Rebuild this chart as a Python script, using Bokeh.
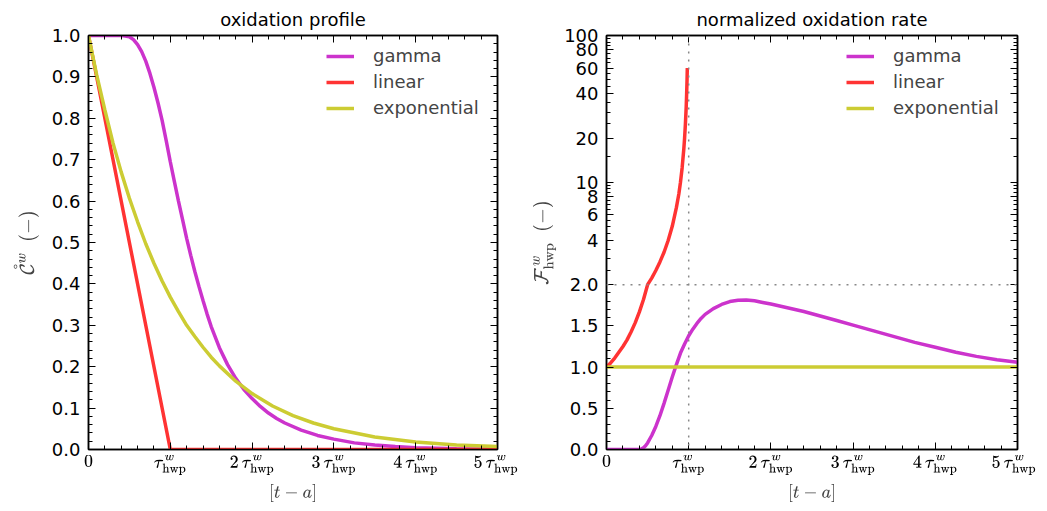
import numpy as np
from bokeh.plotting import figure
from bokeh.models import (FixedTicker, LinearAxis, Range1d, TeX, Legend, LegendItem,
                          Span, PrintfTickFormatter)
from bokeh.layouts import row
from bokeh.embed import file_html
from bokeh.resources import INLINE

# ---------------- data (x in units of tau_hwp) ----------------
# left panel: oxidation profile
t_gamma = [0, 0.2, 0.4, 0.45, 0.5, 0.55, 0.6, 0.65, 0.7, 0.75, 0.8, 0.85, 0.9, 0.95, 1.0,
           1.05, 1.1, 1.15, 1.2, 1.25, 1.3, 1.35, 1.4, 1.45, 1.5, 1.6, 1.7, 1.8, 1.9, 2.0,
           2.1, 2.2, 2.3, 2.4, 2.6, 2.8, 3.0, 3.25, 3.5, 3.75, 4.0, 4.5, 5.0]
c_gamma = [1.0, 1.0, 1.0, 0.999, 0.997, 0.99, 0.978, 0.961, 0.938, 0.909, 0.875, 0.837,
           0.795, 0.746, 0.695, 0.647, 0.60, 0.555, 0.51, 0.469, 0.43, 0.394, 0.36, 0.327,
           0.297, 0.246, 0.205, 0.172, 0.145, 0.123, 0.104, 0.088, 0.075, 0.064, 0.047,
           0.034, 0.025, 0.016, 0.011, 0.007, 0.0045, 0.002, 0.001]
t_lin = [0, 1, 5]
c_lin = [1.0, 0.0, 0.0]
t_exp = [0, 0.1, 0.2, 0.3, 0.4, 0.5, 0.6, 0.7, 0.8, 0.9, 1.0, 1.1, 1.2, 1.3, 1.4, 1.5, 1.6,
         1.8, 2.0, 2.25, 2.5, 2.75, 3.0, 3.5, 4.0, 4.5, 5.0]
c_exp = [1.0, 0.905, 0.82, 0.74, 0.67, 0.607, 0.55, 0.497, 0.45, 0.407, 0.368, 0.333, 0.30,
         0.273, 0.247, 0.223, 0.202, 0.165, 0.135, 0.105, 0.082, 0.064, 0.05, 0.03, 0.018,
         0.011, 0.007]

# right panel: normalized oxidation rate
t_gamma_rate = [0, 0.2, 0.4, 0.42, 0.45, 0.475, 0.5, 0.55, 0.6, 0.65, 0.7, 0.75, 0.8, 0.85,
                0.9, 0.95, 1.0, 1.05, 1.1, 1.15, 1.2, 1.3, 1.4, 1.5, 1.6, 1.7, 1.8, 1.9, 2.0,
                2.2, 2.4, 2.6, 2.8, 3.0, 3.25, 3.5, 3.75, 4.0, 4.25, 4.5, 4.75, 5.0]
f_gamma_rate = [0.0, 0.0, 0.0, 0.005, 0.02, 0.045, 0.08, 0.17, 0.28, 0.41, 0.56, 0.72, 0.88,
                1.03, 1.17, 1.28, 1.38, 1.46, 1.53, 1.59, 1.64, 1.71, 1.76, 1.795, 1.81,
                1.815, 1.805, 1.785, 1.765, 1.72, 1.675, 1.62, 1.565, 1.51, 1.44, 1.37, 1.30,
                1.24, 1.18, 1.13, 1.09, 1.06]
t_lin_rate = [0, 0.05, 0.1, 0.15, 0.2, 0.25, 0.3, 0.35, 0.4, 0.45, 0.5, 0.55, 0.6, 0.65, 0.7,
              0.75, 0.8, 0.85, 0.88, 0.9, 0.92, 0.94, 0.95, 0.96, 0.97, 0.975, 0.98, 0.983]
f_lin_rate = [1.0, 1.05, 1.11, 1.18, 1.25, 1.33, 1.43, 1.54, 1.67, 1.82, 2.0, 2.22, 2.5, 2.86,
              3.33, 4.0, 5.0, 6.7, 8.3, 10, 12.5, 16.7, 20, 25, 33, 40, 50, 60]
t_exp_rate = [0, 5]
f_exp_rate = [1.0, 1.0]
ref_t = 1.0
ref_f = 2.0

series_names = ["gamma", "linear", "exponential"]
series_colors = ["#cc33cc", "#ff3333", "#cccc33"]

x_tick_values = [0, 1, 2, 3, 4, 5]
x_tick_labels = ["0", r"\tau^w_{\mathrm{hwp}}", r"2\,\tau^w_{\mathrm{hwp}}",
                 r"3\,\tau^w_{\mathrm{hwp}}", r"4\,\tau^w_{\mathrm{hwp}}", r"5\,\tau^w_{\mathrm{hwp}}"]
x_minor = [round(0.2 * i, 2) for i in range(26)]
left_y_ticks = [round(0.1 * i, 1) for i in range(11)]
left_y_minor = [round(0.02 * i, 2) for i in range(51)]
right_y_values = [0, 0.5, 1.0, 1.5, 2.0, 4, 6, 8, 10, 20, 40, 60, 80, 100]
right_y_labels = ["0.0", "0.5", "1.0", "1.5", "2.0", "4", "6", "8", "10", "20", "40", "60",
                  "80", "100"]
right_y_minor_values = ([round(0.1 * i, 1) for i in range(21)] +
                        [2.5 + 0.5 * i for i in range(16)] + [15 + 5 * i for i in range(18)])

# piecewise linear (0..2) / log (2..100) scale of the right panel
K = 1.78
def fwd(v):
    v = np.asarray(v, dtype=float)
    return np.where(v <= 2, v, 2 + K * np.log10(np.maximum(v, 2) / 2))

FONT = "DejaVu Sans"

def style_fig(p, yticks, yminor, ylabels=None):
    bx = p.below[0]
    ly = p.left[0]
    p.grid.visible = False
    p.outline_line_color = "black"
    p.outline_line_width = 1.5
    p.title.text_font = FONT
    p.title.text_font_size = "18px"
    p.title.text_font_style = "normal"
    p.title.text_color = "black"
    p.title.align = "center"
    p.title.standoff = 12
    xt = FixedTicker(ticks=x_tick_values, minor_ticks=x_minor)
    yt = FixedTicker(ticks=yticks, minor_ticks=yminor)
    top = LinearAxis(ticker=xt)
    right = LinearAxis(ticker=yt)
    p.add_layout(top, "above")
    p.add_layout(right, "right")
    bx.ticker = xt
    ly.ticker = yt
    for ax in [bx, top, ly, right]:
        ax.axis_line_color = "black"
        ax.axis_line_width = 1.5
        ax.major_tick_in = 7
        ax.major_tick_out = 0
        ax.minor_tick_in = 4
        ax.minor_tick_out = 0
        ax.major_tick_line_color = "black"
        ax.minor_tick_line_color = "black"
        ax.major_label_text_color = "black"
        ax.major_label_text_font = FONT
        ax.major_label_text_font_size = "18px"
    top.major_label_overrides = {v: "" for v in x_tick_values}
    right.major_label_overrides = {v: "" for v in yticks}
    for ax in [top, right]:
        ax.major_label_text_color = None
        ax.major_label_standoff = 0
    top.major_label_standoff = 6
    bx.major_label_overrides = {v: TeX(text=l) for v, l in zip(x_tick_values, x_tick_labels)}
    bx.major_label_text_font_size = "14.5px"
    bx.major_label_standoff = 5
    bx.axis_label = TeX(text=r"[t-a]")
    bx.axis_label_text_font_size = "14.5px"
    bx.axis_label_standoff = 6
    ly.major_label_standoff = 8
    if ylabels is not None:
        ly.major_label_overrides = {v: l for v, l in zip(yticks, ylabels)}
    else:
        ly.formatter = PrintfTickFormatter(format="%.1f")
    return bx, ly

def add_legend(p, renderers):
    items = [LegendItem(label=n, renderers=[r]) for n, r in zip(series_names, renderers)]
    lg = Legend(items=items, location="top_right", border_line_color=None,
                background_fill_alpha=0, label_text_font=FONT, label_text_font_size="18px",
                glyph_width=28, glyph_height=18, label_height=18, label_width=114,
                label_standoff=19, spacing=5, padding=0, margin=10)
    p.add_layout(lg)

H = 505
TOP = 32
BOTTOM = 56

# ---------------- left panel ----------------
p1 = figure(width=518, height=H, x_range=Range1d(0, 5), y_range=Range1d(0, 1),
            title="oxidation profile", output_backend="svg", toolbar_location=None,
            min_border_left=88, min_border_right=21, min_border_top=TOP,
            min_border_bottom=BOTTOM)
bx1, ly1 = style_fig(p1, left_y_ticks, left_y_minor)
ly1.axis_label = TeX(text=r"\mathring{\mathcal{C}}^w\ \ (-)")
ly1.axis_label_text_font_size = "16px"
ly1.axis_label_standoff = 10
r1 = p1.line(t_gamma, c_gamma, line_color=series_colors[0], line_width=3.5)
r2 = p1.line(t_lin, c_lin, line_color=series_colors[1], line_width=3.5)
r3 = p1.line(t_exp, c_exp, line_color=series_colors[2], line_width=3.5)
add_legend(p1, [r1, r2, r3])

# ---------------- right panel ----------------
ymax = float(fwd(100))
right_ticks = [float(v) for v in fwd(right_y_values)]
right_minor = [float(v) for v in fwd(right_y_minor_values)]
p2 = figure(width=518, height=H, x_range=Range1d(0, 5), y_range=Range1d(0, ymax),
            title="normalized oxidation rate", output_backend="svg", toolbar_location=None,
            min_border_left=88, min_border_right=19, min_border_top=TOP,
            min_border_bottom=BOTTOM)
bx2, ly2 = style_fig(p2, right_ticks, right_minor, right_y_labels)
ly2.axis_label = TeX(text=r"\mathcal{F}^w_{\mathrm{hwp}}\ \ (-)")
ly2.axis_label_text_font_size = "17px"
p2.add_layout(Span(location=ref_t, dimension="height", line_color="#888888",
                   line_width=1.5, line_dash="2 6"))
p2.add_layout(Span(location=float(fwd(ref_f)), dimension="width", line_color="#888888",
                   line_width=1.5, line_dash="2 6"))
s1 = p2.line(t_gamma_rate, fwd(f_gamma_rate), line_color=series_colors[0], line_width=3.5)
s2 = p2.line(t_lin_rate, fwd(f_lin_rate), line_color=series_colors[1], line_width=3.5)
s3 = p2.line(t_exp_rate, fwd(f_exp_rate), line_color=series_colors[2], line_width=3.5)
add_legend(p2, [s1, s2, s3])

layout = row(p1, p2)
open("out.html", "w").write(file_html(layout, INLINE))
